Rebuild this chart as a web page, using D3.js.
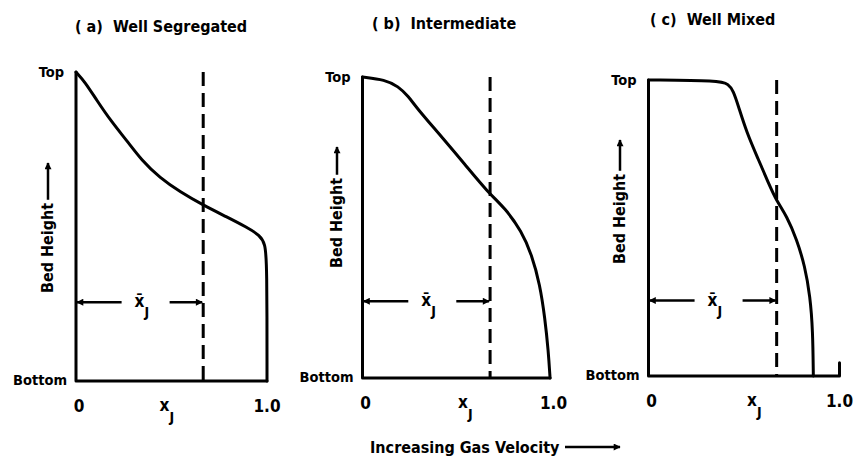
<!DOCTYPE html>
<html>
<head>
<meta charset="utf-8">
<script src="https://cdn.jsdelivr.net/npm/d3@7"></script>
<style>
  body { margin: 0; background: #fff; }
  text {
    font-family: "DejaVu Sans Condensed", "Liberation Sans Narrow", "DejaVu Sans", sans-serif;
    font-weight: bold;
    fill: #000;
    white-space: pre;
  }
</style>
</head>
<body>
<svg id="chart" width="856" height="460"></svg>
<script>
// Jetsam fraction x_J versus height in the bed, for three mixing regimes
const panelTitles = ["( a)  Well Segregated", "( b)  Intermediate", "( c)  Well Mixed"];

// (a) well segregated profile: fraction x_J (0..1) and relative bed height (0 bottom .. 1 top)
const segregatedX = [0.000, 0.047, 0.108, 0.187, 0.265, 0.344, 0.440, 0.545, 0.666, 0.789, 0.893, 0.963, 0.990, 1.000, 1.000];
const segregatedH = [1.000, 0.968, 0.909, 0.838, 0.779, 0.714, 0.657, 0.612, 0.569, 0.531, 0.498, 0.471, 0.444, 0.385, 0.000];

// (b) intermediate profile
const intermediateX = [0.000, 0.118, 0.187, 0.240, 0.284, 0.397, 0.537, 0.659, 0.746, 0.833, 0.886, 0.929, 0.955, 0.973, 0.982];
const intermediateH = [1.000, 0.991, 0.969, 0.936, 0.897, 0.814, 0.709, 0.615, 0.565, 0.487, 0.410, 0.310, 0.199, 0.089, 0.000];

// (c) well mixed profile
const mixedX = [0.000, 0.374, 0.418, 0.444, 0.470, 0.514, 0.575, 0.627, 0.671, 0.724, 0.776, 0.819, 0.846, 0.860, 0.863];
const mixedH = [1.000, 0.998, 0.986, 0.964, 0.913, 0.823, 0.732, 0.653, 0.591, 0.540, 0.461, 0.371, 0.269, 0.156, 0.000];

// bed-averaged fraction (dashed line) for each panel
const meanFraction = [0.666, 0.668, 0.671];

const xTickValues = [0, 1];
const xTickLabels = ["0", "1.0"];
const yTickValues = [0, 1];
const yTickLabels = ["Bottom", "Top"];
const yAxisTitle = "Bed Height";
const xAxisTitle = "Increasing Gas Velocity";

// ---- layout ----
const svg = d3.select("#chart");
const panels = [
  { left: 76,    top: 72, bottom: 381, axisEnd: 1.000, endTick: false,
    titleX: 75,  titleY: 32, labelX: 48,  labelLow: 293, arrowTip: 163, xjShift: -12 },
  { left: 362.5, top: 77, bottom: 378, axisEnd: 0.982, endTick: false,
    titleX: 372, titleY: 29, labelX: 337, labelLow: 268, arrowTip: 147, xjShift: 0 },
  { left: 648.5, top: 80, bottom: 376, axisEnd: 1.000, endTick: true,
    titleX: 650, titleY: 25, labelX: 620, labelLow: 264, arrowTip: 140, xjShift: 3 }
];
const panelWidth = 191;
const profiles = [
  d3.zip(segregatedX, segregatedH),
  d3.zip(intermediateX, intermediateH),
  d3.zip(mixedX, mixedH)
];

// arrowhead marker
const defs = svg.append("defs");
defs.append("marker")
  .attr("id", "head")
  .attr("viewBox", "0 0 10 10")
  .attr("refX", 9).attr("refY", 5)
  .attr("markerWidth", 9).attr("markerHeight", 7)
  .attr("markerUnits", "userSpaceOnUse")
  .attr("orient", "auto")
  .append("path").attr("d", "M0,0 L10,5 L0,10 Z").attr("fill", "#000");

panels.forEach((p, i) => {
  const x = d3.scaleLinear().domain([0, 1]).range([p.left, p.left + panelWidth]);
  const y = d3.scaleLinear().domain([0, 1]).range([p.bottom, p.top]);
  const g = svg.append("g");

  // title
  g.append("text")
    .attr("x", p.titleX).attr("y", p.titleY)
    .attr("font-size", 16)
    .text(panelTitles[i]);

  // axes: left edge and bottom edge
  const axisPath = d3.path();
  axisPath.moveTo(x(0), y(1));
  axisPath.lineTo(x(0), y(0));
  axisPath.lineTo(x(p.axisEnd), y(0));
  if (p.endTick) axisPath.lineTo(x(p.axisEnd), y(0.045));
  g.append("path").attr("d", axisPath.toString())
    .attr("fill", "none").attr("stroke", "#000").attr("stroke-width", 3)
    .attr("stroke-linejoin", "round").attr("stroke-linecap", "round");

  // profile curve, smoothed through the sampled points
  const line = d3.line()
    .x(d => x(d[0])).y(d => y(d[1]))
    .curve(d3.curveBasis);
  g.append("path").datum(profiles[i]).attr("d", line)
    .attr("fill", "none").attr("stroke", "#000").attr("stroke-width", 3)
    .attr("stroke-linejoin", "round").attr("stroke-linecap", "round");

  // mean fraction (dashed)
  g.append("line")
    .attr("x1", x(meanFraction[i])).attr("x2", x(meanFraction[i]))
    .attr("y1", y(1)).attr("y2", y(0))
    .attr("stroke", "#000").attr("stroke-width", 3)
    .attr("stroke-dasharray", "14,7");

  // y tick labels
  yTickValues.forEach((v, k) => {
    g.append("text")
      .attr("x", x(0) - (v === 1 ? 12 : 9)).attr("y", y(v) + (v === 1 ? 5 : 4))
      .attr("text-anchor", "end").attr("font-size", 14.5)
      .text(yTickLabels[k]);
  });

  // x tick labels
  xTickValues.forEach((v, k) => {
    g.append("text")
      .attr("x", x(v) + (k === 0 ? 3 : 0)).attr("y", p.bottom + 31)
      .attr("text-anchor", "middle").attr("font-size", 17)
      .text(xTickLabels[k]);
  });

  // x_J axis label
  const xl = g.append("text")
    .attr("x", x(0.5) + p.xjShift).attr("y", p.bottom + 30)
    .attr("font-size", 17);
  xl.append("tspan").text("x");
  xl.append("tspan").attr("dy", 11).attr("font-size", 14).text("J");

  // mean-value marker: arrows from the axis to the dashed line
  const my = y(0.255);
  const lx = x(meanFraction[i] / 2) - 5;
  g.append("line")
    .attr("x1", lx - 13).attr("x2", x(0) + 1)
    .attr("y1", my).attr("y2", my)
    .attr("stroke", "#000").attr("stroke-width", 2.5)
    .attr("marker-end", "url(#head)");
  g.append("line")
    .attr("x1", lx + 35).attr("x2", x(meanFraction[i]) - 1)
    .attr("y1", my).attr("y2", my)
    .attr("stroke", "#000").attr("stroke-width", 2.5)
    .attr("marker-end", "url(#head)");
  const ml = g.append("text")
    .attr("x", lx).attr("y", my + 5)
    .attr("font-size", 17);
  ml.append("tspan").text("x\u0304");
  ml.append("tspan").attr("dy", 10).attr("font-size", 14).text("J");

  // vertical axis title with upward arrow
  const lg = g.append("g")
    .attr("transform", `translate(${p.labelX},${p.labelLow}) rotate(-90)`);
  const lt = lg.append("text")
    .attr("x", 0).attr("y", 5).attr("font-size", 16)
    .text(yAxisTitle);
  const tl = lt.node().getComputedTextLength();
  lg.append("line")
    .attr("x1", tl + 3).attr("x2", p.labelLow - p.arrowTip).attr("y1", 0).attr("y2", 0)
    .attr("stroke", "#000").attr("stroke-width", 2.5)
    .attr("marker-end", "url(#head)");
});

// shared horizontal title with arrow
svg.append("text")
  .attr("x", 370).attr("y", 453).attr("font-size", 16)
  .text(xAxisTitle);
svg.append("line")
  .attr("x1", 565).attr("x2", 620).attr("y1", 447).attr("y2", 447)
  .attr("stroke", "#000").attr("stroke-width", 2.5)
  .attr("marker-end", "url(#head)");
</script>
</body>
</html>
